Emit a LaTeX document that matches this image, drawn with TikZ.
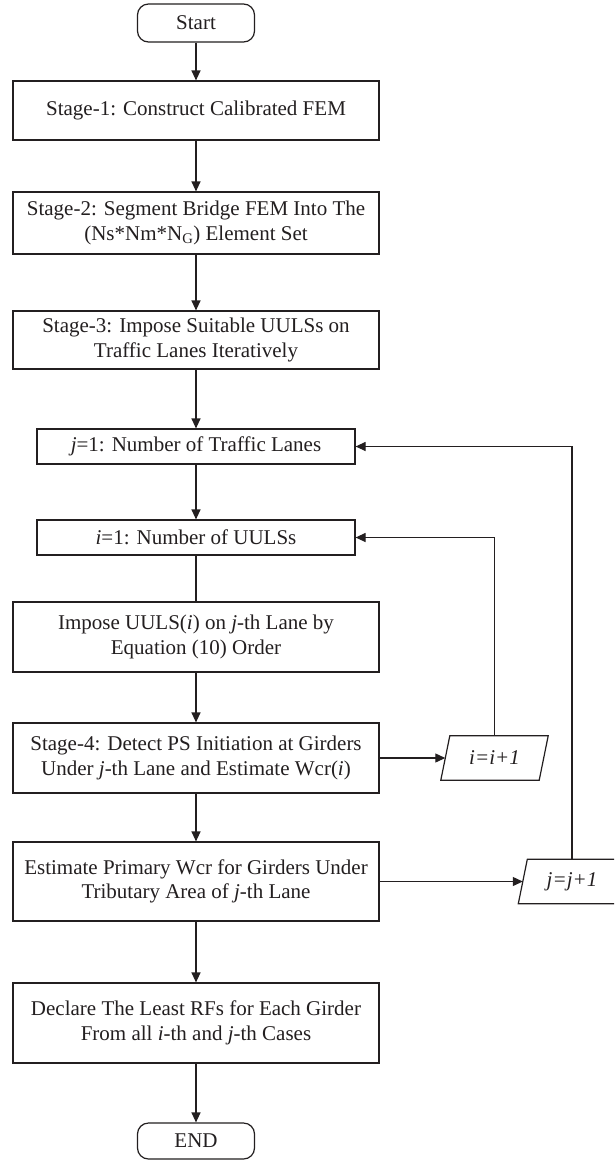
\documentclass[tikz,border=0pt]{standalone}
\usepackage{fontspec}
\setmainfont{Liberation Serif}
\usetikzlibrary{arrows.meta,calc}
\definecolor{ink}{HTML}{231F20}
\begin{document}
\begin{tikzpicture}[x=1pt,y=-1pt,
  txt/.style={font=\fontsize{21}{24.5}\selectfont, text=ink, align=center, inner sep=0pt},
  box/.style={txt, draw=ink, line width=1.2pt, minimum width=366pt},
  term/.style={box, rounded corners=11pt, minimum width=117pt},
  arr/.style={draw=ink, line width=1.2pt, -{Triangle[length=10pt,width=9pt]}},
  ln/.style={draw=ink, line width=1.2pt}]
\clip (0,0) rectangle (614,1160);
\fill[white] (0,0) rectangle (614,1160);

\node[term, minimum height=38pt] (start) at (196,23) {Start};
\node[box, minimum height=59pt] (s1) at (196,110.5) {Stage-1: Construct Calibrated FEM};
\node[box, minimum height=62pt] (s2) at (196,223) {Stage-2: Segment Bridge FEM Into The\\(Ns*Nm*N\textsubscript{G}) Element Set};
\node[box, minimum height=58pt] (s3) at (196,340) {Stage-3: Impose Suitable UULSs on\\Traffic Lanes Iteratively};
\node[box, minimum width=318pt, minimum height=35pt] (j1) at (196,446.5) {\textit{j}=1: Number of Traffic Lanes};
\node[box, minimum width=318pt, minimum height=35pt] (i1) at (196,537.5) {\textit{i}=1: Number of UULSs};
\node[box, minimum height=70pt] (imp) at (196,637) {Impose UULS(\textit{i}) on \textit{j}-th Lane by\\Equation (10) Order};
\node[box, minimum height=70pt] (s4) at (196,758) {Stage-4: Detect PS Initiation at Girders\\Under \textit{j}-th Lane and Estimate Wcr(\textit{i})};
\node[box, minimum height=79pt] (est) at (196,881.5) {Estimate Primary Wcr for Girders Under\\Tributary Area of \textit{j}-th Lane};
\node[box, minimum height=80pt] (dec) at (196,1023) {Declare The Least RFs for Each Girder\\From all \textit{i}-th and \textit{j}-th Cases};
\node[term, minimum height=36pt] (end) at (196,1141) {END};

\node[txt, minimum width=98pt, minimum height=44pt] (ii) at (494.5,758) {\textit{i=i+1}};
\draw[ln] ($(ii.south west)+(-4.5,0)$) -- ($(ii.north west)+(4.5,0)$) -- ($(ii.north east)+(4.5,0)$) -- ($(ii.south east)+(-4.5,0)$) -- cycle;
\node[txt, minimum width=98pt, minimum height=44pt] (jj) at (572,881.5) {\textit{j=j+1}};
\draw[ln] ($(jj.south west)+(-4.5,0)$) -- ($(jj.north west)+(4.5,0)$) -- ($(jj.north east)+(4.5,0)$) -- ($(jj.south east)+(-4.5,0)$) -- cycle;

\draw[arr] (start) -- (s1);
\draw[arr] (s1) -- (s2);
\draw[arr] (s2) -- (s3);
\draw[arr] (s3) -- (j1);
\draw[arr] (j1) -- (i1);
\draw[ln] (i1) -- (imp);
\draw[arr] (imp) -- (s4);
\draw[arr] (s4) -- (est);
\draw[arr] (est) -- (dec);
\draw[arr] (dec) -- (end);
\draw[arr] (s4.east) -- (ii.west);
\draw[arr] (ii.north) |- (i1.east);
\draw[arr] (est.east) -- (jj.west);
\draw[arr] (jj.north) |- (j1.east);
\end{tikzpicture}
\end{document}
